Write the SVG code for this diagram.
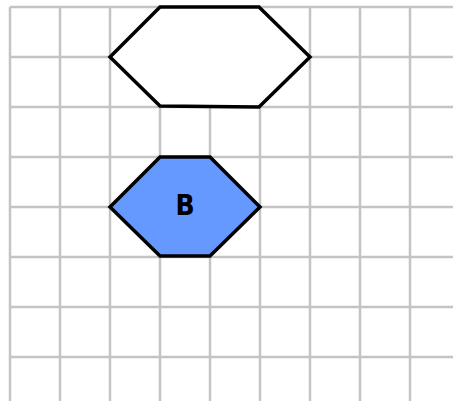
<svg xmlns="http://www.w3.org/2000/svg" width="453" height="401" viewBox="0 0 453 401">
<style>
.grid line{stroke:#c4c4c4;stroke-width:2.5}
.hex{stroke:#000;stroke-width:3.5;stroke-linejoin:miter}
.lbl{font-family:"DejaVu Sans Condensed","DejaVu Sans",sans-serif;font-stretch:condensed;font-weight:bold;font-size:28px;fill:#000;text-anchor:middle}
</style>
<rect width="453" height="401" fill="#fff"/>
<g class="grid">
<line x1="10" y1="7" x2="10" y2="401"/>
<line x1="60" y1="7" x2="60" y2="401"/>
<line x1="110" y1="7" x2="110" y2="401"/>
<line x1="160" y1="7" x2="160" y2="401"/>
<line x1="210" y1="7" x2="210" y2="401"/>
<line x1="260" y1="7" x2="260" y2="401"/>
<line x1="310" y1="7" x2="310" y2="401"/>
<line x1="360" y1="7" x2="360" y2="401"/>
<line x1="410" y1="7" x2="410" y2="401"/>
<line x1="10" y1="7" x2="453" y2="7"/>
<line x1="10" y1="57" x2="453" y2="57"/>
<line x1="10" y1="107" x2="453" y2="107"/>
<line x1="10" y1="157" x2="453" y2="157"/>
<line x1="10" y1="207" x2="453" y2="207"/>
<line x1="10" y1="257" x2="453" y2="257"/>
<line x1="10" y1="307" x2="453" y2="307"/>
<line x1="10" y1="357" x2="453" y2="357"/>
</g>
<g id="node-top">
<polygon class="hex" fill="#fff" points="110,57 160,7 259,7 310,57 259,107 160,106"/>
</g>
<g id="node-B">
<polygon class="hex" fill="#6699ff" points="110,207 160,157 210,157 260,207 210,256 160,256"/>
<text class="lbl" x="185" y="214.5">B</text>
</g>
<g id="connectors"></g>
</svg>
